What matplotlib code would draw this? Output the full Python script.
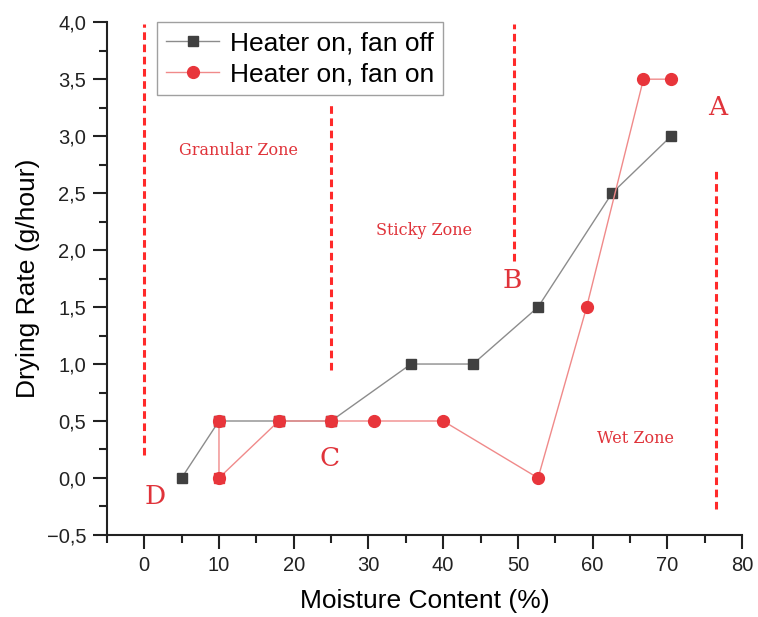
import matplotlib
matplotlib.use('Agg')
import matplotlib.pyplot as plt
from matplotlib.ticker import MultipleLocator, FuncFormatter

plt.rcParams['font.family'] = ['Liberation Sans', 'DejaVu Sans']

# data
fan_off_x = [5, 10, 18, 25, 35.7, 44, 52.7, 62.6, 70.5]
fan_off_y = [0.0, 0.5, 0.5, 0.5, 1.0, 1.0, 1.5, 2.5, 3.0]

fan_on_x = [10, 10, 18, 25, 30.8, 40, 52.7, 59.2, 66.8, 70.5]
fan_on_y = [0.5, 0.0, 0.5, 0.5, 0.5, 0.5, 0.0, 1.5, 3.5, 3.5]
n_square = 4  # first red points show up as squares

zone_x = [0, 25, 49.5, 76.5]
zone_y0 = [0.2, 0.95, 1.9, -0.27]
zone_y1 = [3.98, 3.27, 3.98, 2.7]

zone_names = ['Granular Zone', 'Sticky Zone', 'Wet Zone']
zone_name_x = [12.6, 37.5, 65.8]
zone_name_y = [2.87, 2.17, 0.35]

point_names = ['A', 'B', 'C', 'D']
point_x = [76.8, 49.3, 24.8, 1.4]
point_y = [3.25, 1.73, 0.17, -0.16]

fig = plt.figure(figsize=(7.58, 6.17), dpi=100)
ax = fig.add_axes([0.141, 0.133, 0.838, 0.831])

ax.plot(fan_off_x, fan_off_y, color='#8c8c8c', lw=1, marker='s', ms=7.5,
        mfc='#404040', mec='#404040', label='Heater on, fan off', zorder=3)
ax.plot(fan_on_x, fan_on_y, color='#f08a8a', lw=1, marker='o', ms=8.5,
        mfc='#e8353b', mec='#e8353b', label='Heater on, fan on', zorder=4)
ax.plot(fan_on_x[:n_square], fan_on_y[:n_square], ls='none', marker='s', ms=7.5,
        mfc='#e8353b', mec='#e8353b', zorder=5)

for x, a, b in zip(zone_x, zone_y0, zone_y1):
    ax.plot([x, x], [a, b], color='#ff2a2a', lw=2.2, ls=(0, (2.5, 1.5)), zorder=2)

for t, x, y in zip(zone_names, zone_name_x, zone_name_y):
    ax.text(x, y, t, color='#e0333a', fontsize=11.5, family='DejaVu Serif',
            ha='center', va='center')
for t, x, y in zip(point_names, point_x, point_y):
    ax.text(x, y, t, color='#e0333a', fontsize=19, family='DejaVu Serif',
            ha='center', va='center')

ax.set_xlim(-5, 80)
ax.set_ylim(-0.5, 4.0)
ax.xaxis.set_major_locator(MultipleLocator(10))
ax.xaxis.set_minor_locator(MultipleLocator(5))
ax.yaxis.set_major_locator(MultipleLocator(0.5))
ax.yaxis.set_minor_locator(MultipleLocator(0.25))
ax.yaxis.set_major_formatter(FuncFormatter(lambda v, p: ('%.1f' % v).replace('.', ',').replace('-', '\u2212')))

for s in ['top', 'right']:
    ax.spines[s].set_visible(False)
for s in ['left', 'bottom']:
    ax.spines[s].set_linewidth(1.5)
    ax.spines[s].set_color('#222222')
ax.tick_params(which='major', length=10, width=1.5, labelsize=14.5, colors='#222222', pad=5)
ax.tick_params(which='minor', length=6, width=1.5, colors='#222222')

ax.set_xlabel('Moisture Content (%)', fontsize=19, labelpad=10)
ax.set_ylabel('Drying Rate (g/hour)', fontsize=19, labelpad=5)

leg = ax.legend(loc='upper left', bbox_to_anchor=(0.079, 1.0), fontsize=19,
                frameon=True, fancybox=False, edgecolor='#888888', borderaxespad=0,
                handlelength=2.0, borderpad=0.35, labelspacing=0.25, handletextpad=0.4)
leg.get_frame().set_linewidth(1)

fig.savefig('out.png', dpi=100)
